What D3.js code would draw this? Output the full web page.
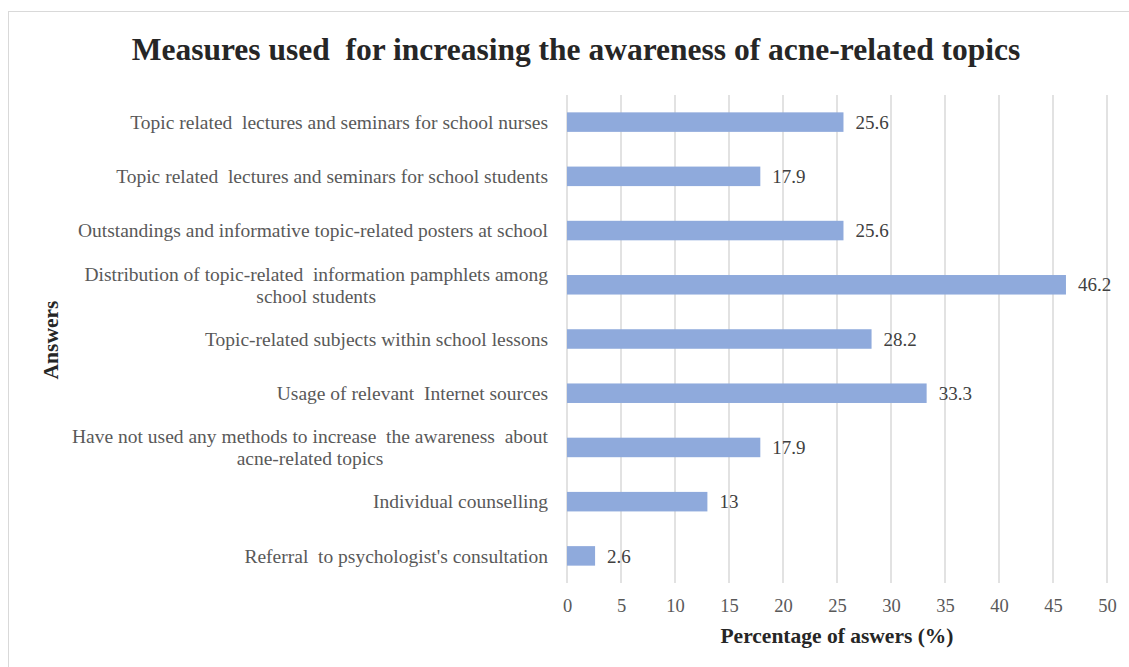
<!DOCTYPE html>
<html>
<head>
<meta charset="utf-8">
<script src="https://cdn.jsdelivr.net/npm/d3@7"></script>
<style>
  body { margin: 0; background: #fff; }
  svg text { font-family: "Liberation Serif", "Times New Roman", serif; }
</style>
</head>
<body>
<svg id="chart" width="1129" height="667"></svg>
<script>
// answers, top to bottom (each entry is the wrapped lines)
const answers = [
  ["Topic related  lectures and seminars for school nurses"],
  ["Topic related  lectures and seminars for school students"],
  ["Outstandings and informative topic-related posters at school"],
  ["Distribution of topic-related  information pamphlets among", "school students"],
  ["Topic-related subjects within school lessons"],
  ["Usage of relevant  Internet sources"],
  ["Have not used any methods to increase  the awareness  about", "acne-related topics"],
  ["Individual counselling"],
  ["Referral  to psychologist's consultation"]
];
const percents = [25.6, 17.9, 25.6, 46.2, 28.2, 33.3, 17.9, 13, 2.6];
const xTicks = [0, 5, 10, 15, 20, 25, 30, 35, 40, 45, 50];

const FONT = "Liberation Serif, Times New Roman, serif";
const svg = d3.select("#chart");
const plot = {left: 567, right: 1107, top: 95, bottom: 583};

// chart border
svg.append("rect")
  .attr("x", 8.5).attr("y", 11.5)
  .attr("width", 1140).attr("height", 680)
  .attr("fill", "none").attr("stroke", "#d9d9d9").attr("stroke-width", 1);

const x = d3.scaleLinear().domain([0, 50]).range([plot.left, plot.right]);
const y = d3.scaleBand().domain(d3.range(answers.length))
  .range([plot.top, plot.bottom]).paddingInner(0.64).paddingOuter(0.32);

// gridlines
svg.append("g").selectAll("line")
  .data(xTicks)
  .join("line")
  .attr("x1", d => x(d)).attr("x2", d => x(d))
  .attr("y1", plot.top).attr("y2", plot.bottom)
  .attr("stroke", "#d9d9d9").attr("stroke-width", 1.5);

// x axis tick labels
const xAxis = svg.append("g")
  .attr("transform", `translate(0,${plot.bottom})`)
  .call(d3.axisBottom(x).tickValues(xTicks).tickSize(0).tickPadding(16));
xAxis.select(".domain").remove();
xAxis.attr("font-family", FONT);
xAxis.selectAll("text")
  .attr("font-size", 18.5).attr("fill", "#595959");

// bars
svg.append("g").selectAll("rect")
  .data(percents)
  .join("rect")
  .attr("x", x(0))
  .attr("y", (d, i) => y(i))
  .attr("width", d => x(d) - x(0))
  .attr("height", y.bandwidth())
  .attr("fill", "#8faadc");

// value labels
svg.append("g").selectAll("text")
  .data(percents)
  .join("text")
  .attr("x", d => x(d) + 12)
  .attr("y", (d, i) => y(i) + y.bandwidth() / 2)
  .attr("dy", "0.35em")
  .attr("font-family", FONT)
  .attr("font-size", 19)
  .attr("fill", "#404040")
  .text(d => d);

// category labels
const labelX = 548;
const cat = svg.append("g").selectAll("text")
  .data(answers)
  .join("text")
  .attr("font-family", FONT)
  .attr("font-size", 19.5)
  .attr("fill", "#595959")
  .style("white-space", "pre")
  .attr("y", (d, i) => y(i) + y.bandwidth() / 2);
cat.each(function(lines) {
  const t = d3.select(this);
  const lh = 22;
  lines.forEach((ln, k) => {
    t.append("tspan")
      .attr("x", labelX)
      .attr("y", +t.attr("y") - (lines.length - 1) / 2 * lh + k * lh)
      .attr("dy", "0.35em")
      .attr("text-anchor", k === 0 ? "end" : "middle")
      .text(ln);
  });
  // center the second line under the first
  if (lines.length > 1) {
    const spans = t.selectAll("tspan").nodes();
    const w = spans[0].getComputedTextLength();
    d3.select(spans[1]).attr("x", labelX - w / 2);
  }
});

// title
svg.append("text")
  .attr("x", 576).attr("y", 60)
  .attr("text-anchor", "middle")
  .attr("font-family", FONT)
  .attr("font-size", 31.5).attr("font-weight", "bold")
  .attr("fill", "#262626")
  .style("white-space", "pre")
  .text("Measures used  for increasing the awareness of acne-related topics");

// axis titles
svg.append("text")
  .attr("x", 837).attr("y", 643)
  .attr("text-anchor", "middle")
  .attr("font-family", FONT)
  .attr("font-size", 21.5).attr("font-weight", "bold")
  .attr("fill", "#262626")
  .text("Percentage of aswers (%)");

svg.append("text")
  .attr("transform", "translate(58,340) rotate(-90)")
  .attr("text-anchor", "middle")
  .attr("font-family", FONT)
  .attr("font-size", 21.5).attr("font-weight", "bold")
  .attr("fill", "#262626")
  .text("Answers");
</script>
</body>
</html>
